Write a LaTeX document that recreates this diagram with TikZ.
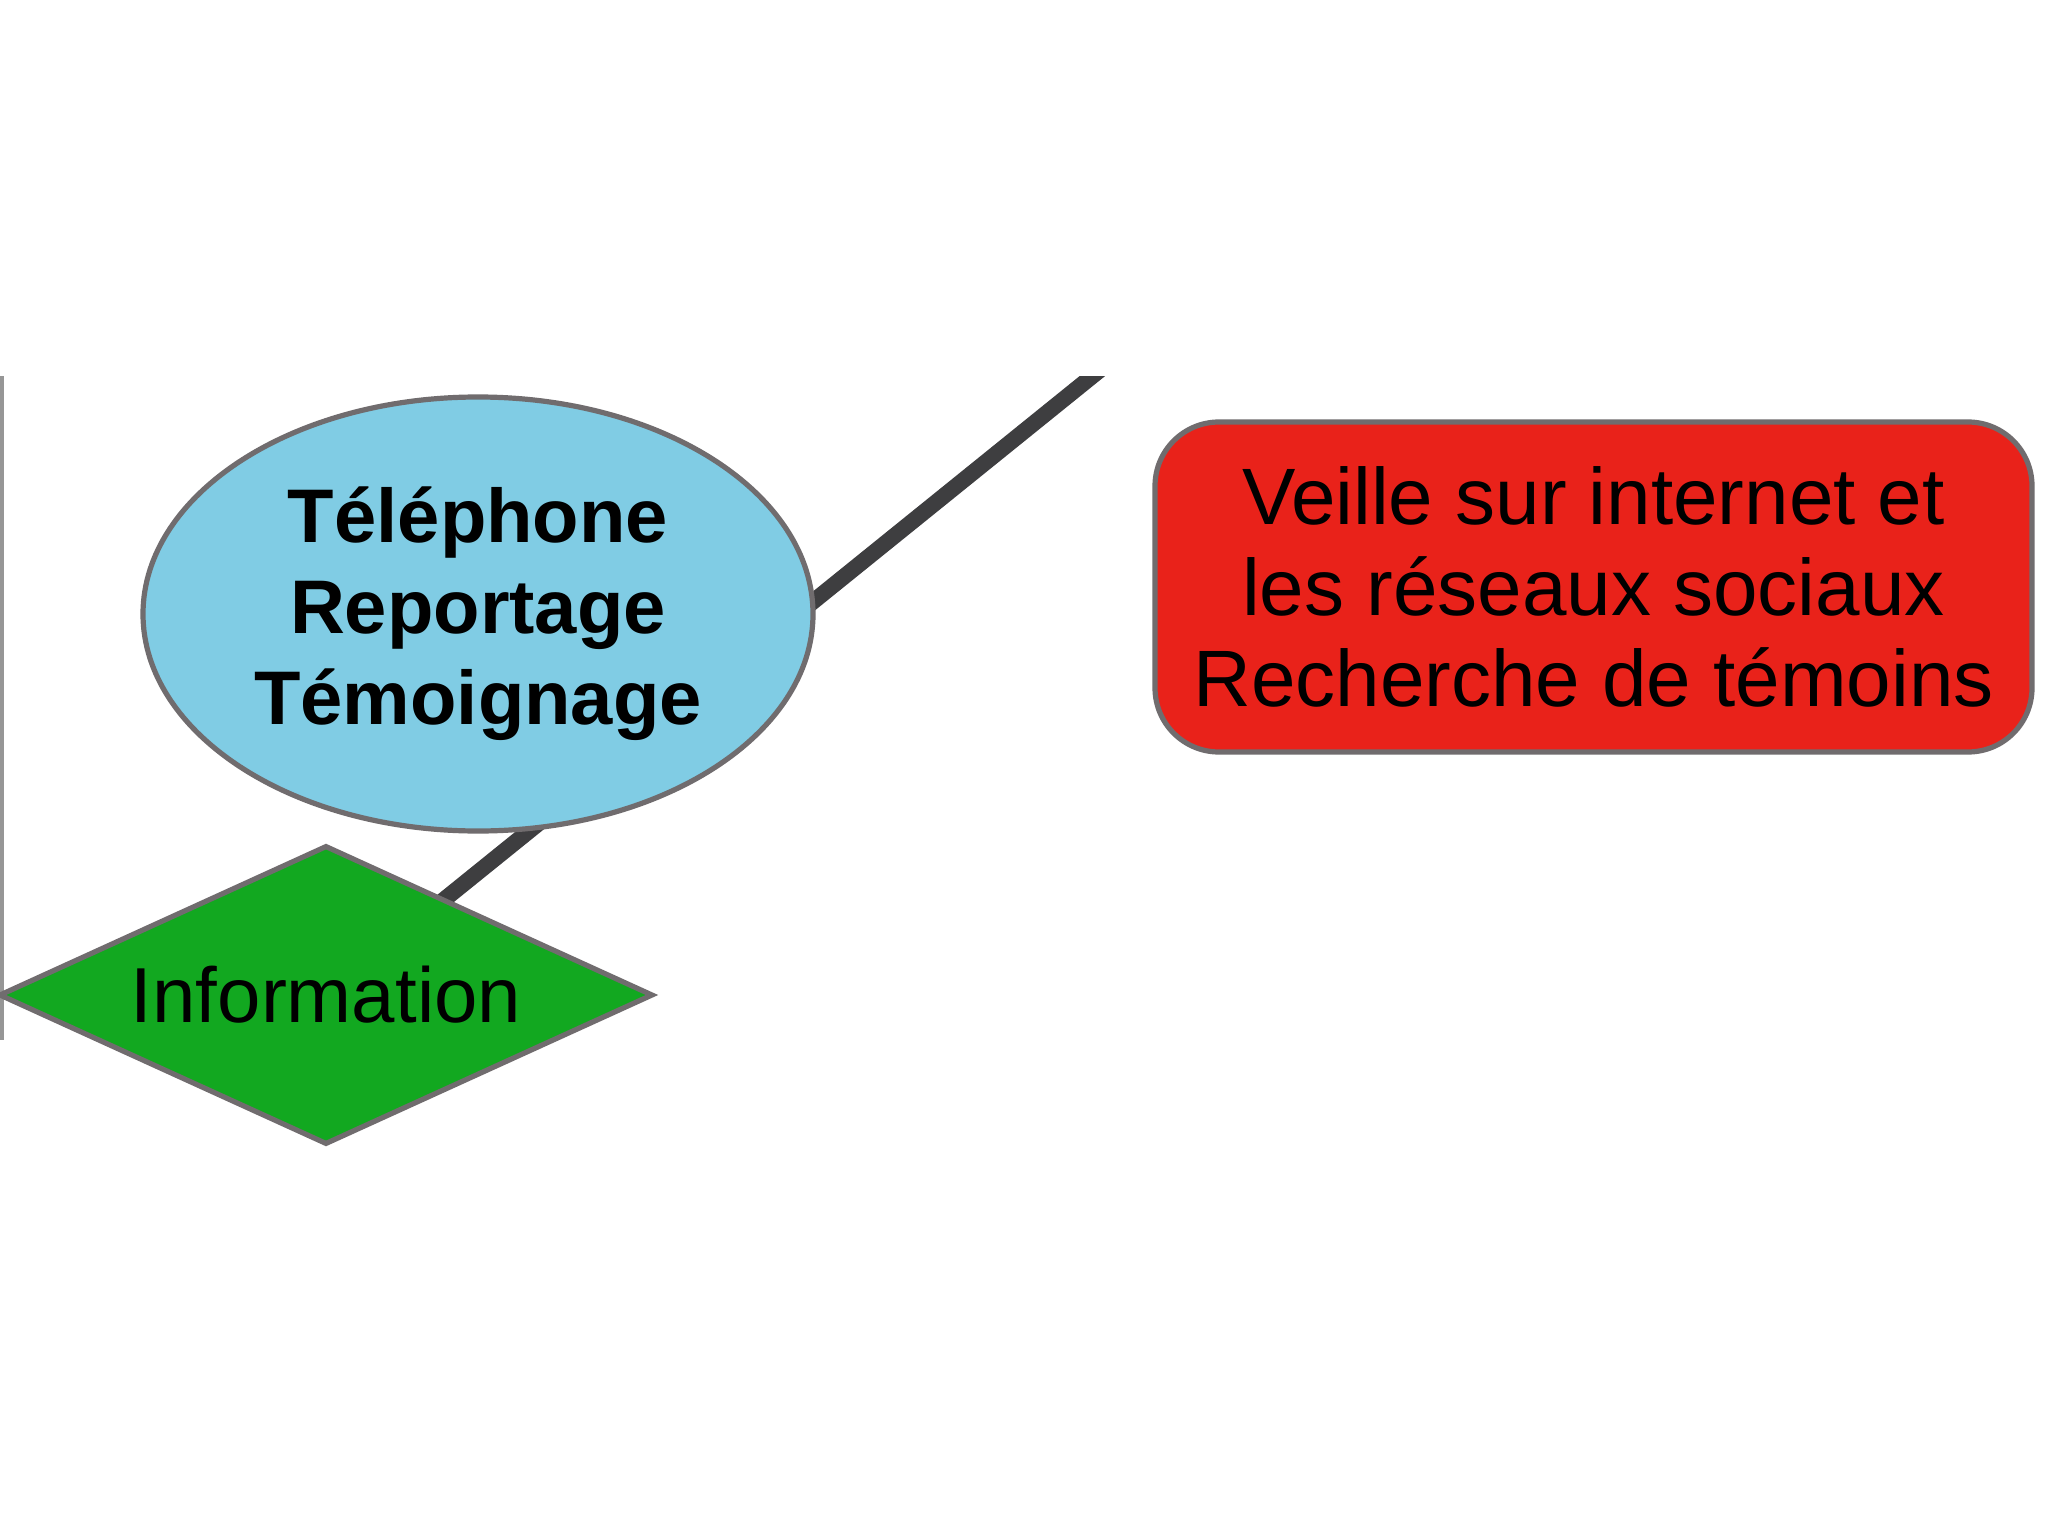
\documentclass[tikz,border=0pt]{standalone}
\usepackage{fontspec}
\setmainfont{Liberation Sans}
\usetikzlibrary{shapes.geometric}
\definecolor{ellblue}{RGB}{128,204,228}
\definecolor{diagreen}{RGB}{18,168,32}
\definecolor{boxred}{RGB}{233,34,26}
\definecolor{bordergray}{RGB}{112,108,110}
\definecolor{linedark}{RGB}{62,62,64}
\definecolor{leftgray}{RGB}{150,150,150}
\tikzset{
  outline/.style={draw=bordergray, line width=2.6pt},
  bluebubble/.style={outline, ellipse, fill=ellblue, inner sep=0pt,
    minimum width=335pt, minimum height=217pt, align=center,
    font=\fontsize{38pt}{45.5pt}\selectfont\bfseries},
  greendiamond/.style={outline, diamond, fill=diagreen, inner sep=0pt,
    shape aspect=2.19, minimum width=327pt, minimum height=149.5pt,
    font=\fontsize{39pt}{45pt}\selectfont},
  redbox/.style={outline, rectangle, rounded corners=32pt, fill=boxred,
    minimum width=438.5pt, minimum height=165pt, align=center, inner sep=0pt,
    font=\fontsize{40pt}{45.5pt}\selectfont},
  thickline/.style={draw=linedark, line width=8pt},
}
\begin{document}
\begin{tikzpicture}[x=0.5pt, y=-0.5pt]
\useasboundingbox (0,0) rectangle (2048,1535);
\fill[white] (0,0) rectangle (2048,1535);
% thin left edge line
\coordinate (ltop) at (2,376);
\coordinate (lbot) at (2,1040);
\draw[leftgray, line width=2pt] (ltop) -- (lbot);
% nodes
\coordinate (info0) at (326,995);
\coordinate (lineend) at (1137,340);
\begin{scope}
\clip (0,376) rectangle (2048,1535);
\draw[thickline] (info0) -- (lineend);
\end{scope}
\node[bluebubble] (tel) at (478,614) {Téléphone\\Reportage\\Témoignage};
\node[greendiamond] (info) at (326,995) {Information};
\node[redbox] (veille) at (1593.5,587) {Veille sur internet et\\les réseaux sociaux\\Recherche de témoins};
\end{tikzpicture}
\end{document}
